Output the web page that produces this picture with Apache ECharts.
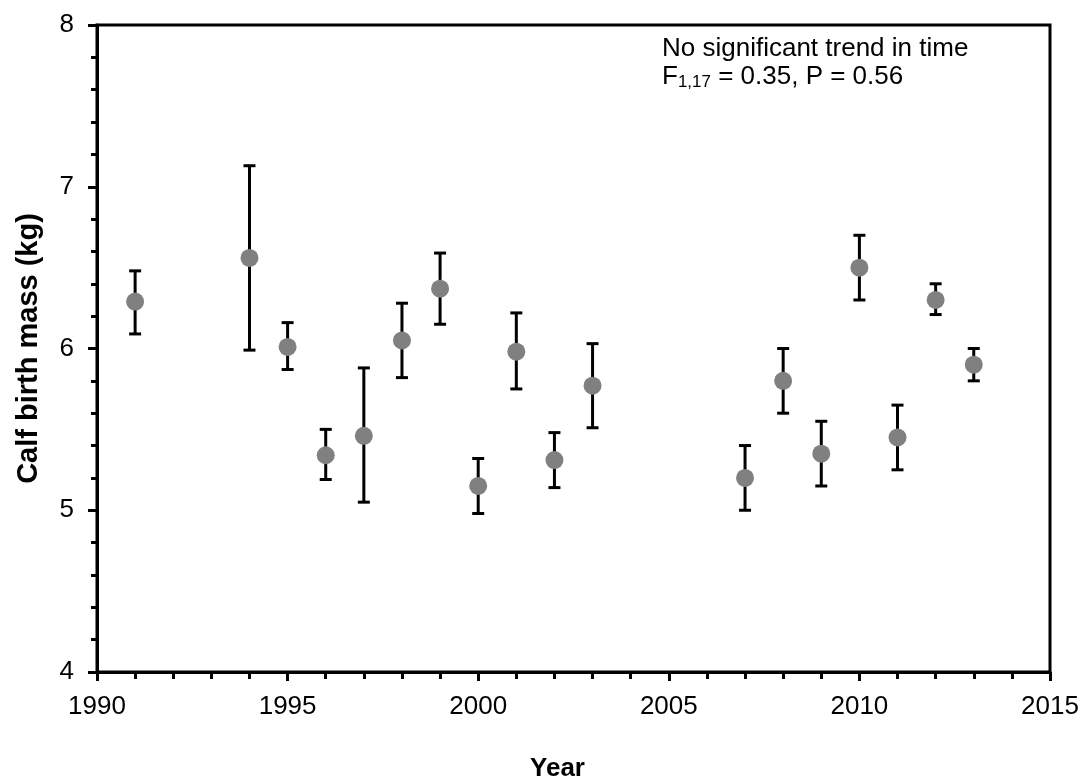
<!DOCTYPE html>
<html>
<head>
<meta charset="utf-8">
<title>Calf birth mass</title>
<script src="https://cdn.jsdelivr.net/npm/echarts@6/dist/echarts.min.js"></script>
<style>
  html, body { margin: 0; padding: 0; background: #fff; }
  #chart { width: 1082px; height: 776px; }
</style>
</head>
<body>
<div id="chart"></div>
<script>
// data
var years = [1991, 1994, 1995, 1996, 1997, 1998, 1999, 2000, 2001, 2002, 2003, 2007, 2008, 2009, 2010, 2011, 2012, 2013];
var mass  = [6.29, 6.56, 6.01, 5.34, 5.46, 6.05, 6.37, 5.15, 5.98, 5.31, 5.77, 5.20, 5.80, 5.35, 6.50, 5.45, 6.30, 5.90];
var upper = [6.48, 7.13, 6.16, 5.50, 5.88, 6.28, 6.59, 5.32, 6.22, 5.48, 6.03, 5.40, 6.00, 5.55, 6.70, 5.65, 6.40, 6.00];
var lower = [6.09, 5.99, 5.87, 5.19, 5.05, 5.82, 6.15, 4.98, 5.75, 5.14, 5.51, 5.00, 5.60, 5.15, 6.30, 5.25, 6.21, 5.80];

var font = 'Liberation Sans, Arial, sans-serif';

var points = years.map(function (y, i) { return [y, mass[i]]; });
var bars = years.map(function (y, i) { return [y, lower[i], upper[i]]; });

var chart = echarts.init(document.getElementById('chart'));

chart.setOption({
  animation: false,
  grid: {
    left: 97, right: 32, top: 25, bottom: 104,
    outerBoundsMode: 'none',
    containLabel: false,
    show: true, borderColor: '#000', borderWidth: 3
  },
  xAxis: {
    type: 'value',
    min: 1990, max: 2015, interval: 5,
    name: 'Year',
    nameLocation: 'middle',
    nameGap: 84,
    nameTextStyle: { fontFamily: font, fontSize: 26, fontWeight: 'bold', color: '#000', padding: [0, 32, 0, 0] },
    axisLine: { lineStyle: { color: '#000', width: 3 } },
    axisTick: { show: true, inside: false, length: 9, lineStyle: { color: '#000', width: 3 } },
    minorTick: { show: true, splitNumber: 5, length: 7, lineStyle: { color: '#000', width: 3 } },
    axisLabel: { fontFamily: font, fontSize: 26, color: '#000', margin: 22,
      formatter: function (v) { return String(v); } },
    splitLine: { show: false }
  },
  yAxis: {
    type: 'value',
    min: 4, max: 8, interval: 1,
    name: 'Calf birth mass (kg)',
    nameLocation: 'middle',
    nameGap: 54,
    nameTextStyle: { fontFamily: font, fontSize: 29, fontWeight: 'bold', color: '#000' },
    axisLine: { lineStyle: { color: '#000', width: 3 } },
    axisTick: { show: true, inside: false, length: 9, lineStyle: { color: '#000', width: 3 } },
    minorTick: { show: true, splitNumber: 5, length: 6, lineStyle: { color: '#000', width: 3 } },
    axisLabel: { fontFamily: font, fontSize: 26, color: '#000', margin: 23 },
    splitLine: { show: false }
  },
  graphic: [{
    type: 'text',
    left: 662, top: 35,
    style: {
      text: 'No significant trend in time\n{f|F}{sub|1,17}{f| = 0.35, P = 0.56}',
      font: '26px ' + font,
      fill: '#000',
      lineHeight: 28,
      rich: {
        f: { fontFamily: font, fontSize: 26, lineHeight: 28, fill: '#000' },
        sub: { fontFamily: font, fontSize: 17, lineHeight: 28, fill: '#000', verticalAlign: 'bottom', padding: [8, 0, 0, 0] }
      }
    }
  }],
  series: [
    {
      type: 'custom',
      z: 1,
      data: bars,
      renderItem: function (params, api) {
        var x = api.value(0);
        var lo = api.coord([x, api.value(1)]);
        var hi = api.coord([x, api.value(2)]);
        var hw = 6;
        var st = { stroke: '#000', lineWidth: 3 };
        return {
          type: 'group',
          children: [
            { type: 'line', shape: { x1: hi[0], y1: hi[1], x2: lo[0], y2: lo[1] }, style: st },
            { type: 'line', shape: { x1: hi[0] - hw, y1: hi[1], x2: hi[0] + hw, y2: hi[1] }, style: st },
            { type: 'line', shape: { x1: lo[0] - hw, y1: lo[1], x2: lo[0] + hw, y2: lo[1] }, style: st }
          ]
        };
      }
    },
    {
      type: 'scatter',
      z: 2,
      data: points,
      symbol: 'circle',
      symbolSize: 18,
      itemStyle: { color: '#808080', opacity: 1 }
    }
  ]
});
</script>
</body>
</html>
